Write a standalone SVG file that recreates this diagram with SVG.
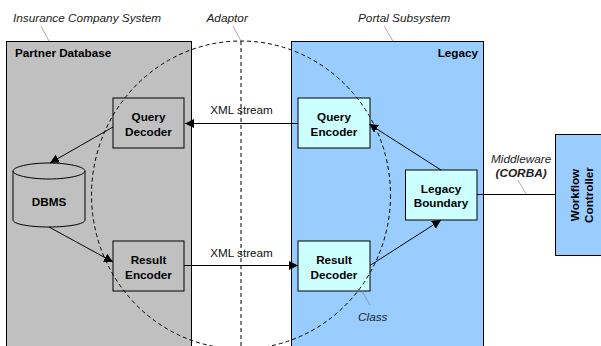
<svg xmlns="http://www.w3.org/2000/svg" width="601" height="346" viewBox="0 0 601 346">
<style>
text{font-family:"Liberation Sans",Arial,sans-serif;fill:#000}
.n{font-size:11.7px;font-weight:bold;text-anchor:middle}
.t{font-size:11.7px;font-weight:bold}
.i{font-size:11.8px;font-style:italic;fill:#222}
.x{font-size:11.7px;text-anchor:middle;fill:#111}
.b{stroke:#000;stroke-width:1}
.g{fill:#c0c0c0}
.c{fill:#ccffff}
.l{fill:#99ccff}
.e{stroke:#000;stroke-width:1;fill:none}
.a{marker-end:url(#arr)}
.d{stroke:#000;stroke-width:1;fill:none;stroke-dasharray:4 3}
.h{stroke:#777;stroke-width:.6;fill:none}
</style>
<defs><marker id="arr" markerUnits="userSpaceOnUse" markerWidth="10" markerHeight="10" refX="9" refY="4.5" orient="auto"><path d="M0 0L9 4.5L0 9z" fill="#000"/></marker></defs>
<rect width="601" height="346" fill="#fff"/>
<g id="partner-database"><rect class="b g" x="6.500" y="41.500" width="185" height="320"/><text class="t" x="15" y="57">Partner Database</text></g>
<g id="legacy"><rect class="b l" x="291.500" y="41.500" width="192" height="320"/><text class="t" x="478" y="57" text-anchor="end">Legacy</text></g>
<g id="query-decoder"><rect class="b g" x="113" y="98" width="71" height="50"/><text class="n" x="148.500" y="121">Query</text><text class="n" x="148.500" y="136">Decoder</text></g>
<g id="result-encoder"><rect class="b g" x="113" y="241" width="71" height="50"/><text class="n" x="148.500" y="264">Result</text><text class="n" x="148.500" y="279">Encoder</text></g>
<g id="query-encoder"><rect class="b c" x="298" y="98" width="72" height="50"/><text class="n" x="334" y="121">Query</text><text class="n" x="334" y="136">Encoder</text></g>
<g id="result-decoder"><rect class="b c" x="298" y="241" width="72" height="50"/><text class="n" x="334" y="264">Result</text><text class="n" x="334" y="279">Decoder</text></g>
<g id="legacy-boundary"><rect class="b c" x="405.500" y="170" width="71.500" height="50"/><text class="n" x="441" y="193">Legacy</text><text class="n" x="441" y="207">Boundary</text></g>
<g id="workflow-controller"><rect class="b l" x="555.500" y="134.500" width="50" height="121"/><text class="n" transform="translate(578.500 195) rotate(-90)">Workflow</text><text class="n" transform="translate(592.500 195) rotate(-90)">Controller</text></g>
<g id="dbms"><path class="b g" d="M13 171V220C13 224 29 227 49 227S85 224 85 220V171C85 167 69 163 49 163S13 167 13 171z"/><path class="e" d="M13 171C13 175 29 179 49 179S85 175 85 171"/><text class="n" x="49" y="206">DBMS</text></g>
<g id="connectors">
<path class="e a" d="M298 123.500H185"/>
<path class="e a" d="M113 127L50 163"/>
<path class="e a" d="M49 227L113 262"/>
<path class="e a" d="M184 265.500H298"/>
<path class="e a" d="M370 265.500L441 220"/>
<path class="e a" d="M441 170L369 124"/>
<path class="e" d="M477 194.500H555"/>
<ellipse class="d" cx="241" cy="195" rx="149.500" ry="154"/>
<path class="d" d="M241 41V346"/>
<path class="h" d="M41 26L49 41M233 26L241 41M384 26L393 41M518 180L526 194M362 291L370 305"/>
</g>
<g id="labels">
<text class="i" x="13" y="22">Insurance Company System</text>
<text class="i" x="206.500" y="22">Adaptor</text>
<text class="i" x="358" y="22">Portal Subsystem</text>
<text class="i" x="491" y="163">Middleware</text>
<text class="i" x="495.500" y="177" font-weight="bold">(CORBA)</text>
<text class="i" x="358" y="321">Class</text>
<text class="x" x="241.500" y="114">XML stream</text>
<text class="x" x="241.500" y="257">XML stream</text>
</g>
</svg>
